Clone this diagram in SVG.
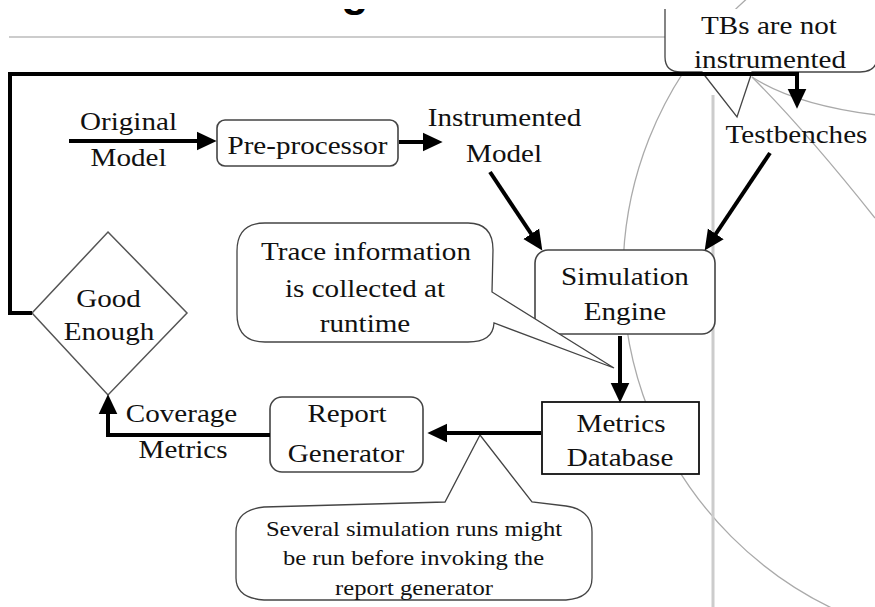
<svg xmlns="http://www.w3.org/2000/svg" width="875" height="607" viewBox="0 0 875 607">
<style>
.t{font-family:"Liberation Serif","Times New Roman",serif;font-size:26px;fill:#111;text-anchor:middle}
.ts{font-family:"Liberation Serif","Times New Roman",serif;font-size:22px;fill:#111;text-anchor:middle}
.box{fill:#fff;stroke:#444;stroke-width:1.6}
.call{fill:#fff;stroke:#444;stroke-width:1.3;stroke-linejoin:miter}
.deco{fill:none;stroke:#aaa;stroke-width:1.3}
.con{fill:none;stroke:#000;stroke-width:4;stroke-linejoin:miter}
</style>
<defs>
<marker id="ah" markerUnits="userSpaceOnUse" markerWidth="20" markerHeight="20" viewBox="0 0 19 18" refX="7" refY="9" orient="auto">
<path d="M0,0 L19,9 L0,18 Z" fill="#000"/>
</marker>
<clipPath id="topclip"><rect x="0" y="9" width="875" height="40"/></clipPath>
</defs>
<rect width="875" height="607" fill="#fff"/>
<g id="background">
<text x="355" y="6" font-family="Liberation Sans, Arial, sans-serif" font-weight="bold" font-size="44" text-anchor="middle" fill="#000" clip-path="url(#topclip)">g</text>
<line x1="9" y1="37" x2="668" y2="37" stroke="#bbb" stroke-width="1.5"/>
<circle cx="993" cy="275" r="370" class="deco"/>
<path class="deco" d="M752,77 Q805,130 875,218"/>
<path class="deco" d="M752,77 C780,95 820,108 877,115"/>
<line x1="713" y1="95" x2="713" y2="607" stroke="#ccc" stroke-width="3"/>
</g>
<g id="original-model"><text class="t" transform="translate(128.5,130) scale(1.12,1)">Original</text><text class="t" transform="translate(128.5,166) scale(1.12,1)">Model</text></g>
<g id="pre-processor"><rect class="box" x="217" y="120" width="181" height="46" rx="8"/><text class="t" transform="translate(307.5,154) scale(1.12,1)">Pre-processor</text></g>
<g id="instrumented-model"><text class="t" transform="translate(504.5,126) scale(1.12,1)">Instrumented</text><text class="t" transform="translate(504,162) scale(1.12,1)">Model</text></g>
<g id="testbenches"><text class="t" transform="translate(796.5,143) scale(1.12,1)">Testbenches</text></g>
<g id="simulation-engine"><rect class="box" x="535" y="250" width="180" height="84" rx="13"/><text class="t" transform="translate(625,285) scale(1.12,1)">Simulation</text><text class="t" transform="translate(625,320) scale(1.12,1)">Engine</text></g>
<g id="metrics-database"><rect x="542" y="402" width="157" height="72" fill="#fff" stroke="#111" stroke-width="1.8"/><text class="t" transform="translate(621,432) scale(1.12,1)">Metrics</text><text class="t" transform="translate(620,466) scale(1.12,1)">Database</text></g>
<g id="report-generator"><rect class="box" x="270" y="397" width="153" height="75" rx="12"/><text class="t" transform="translate(347,422) scale(1.12,1)">Report</text><text class="t" transform="translate(346,462) scale(1.12,1)">Generator</text></g>
<g id="good-enough"><polygon points="108,232 187,313 108,395 32,313" fill="#fff" stroke="#555" stroke-width="1.5"/><text class="t" transform="translate(108.5,307) scale(1.12,1)">Good</text><text class="t" transform="translate(109,340) scale(1.12,1)">Enough</text></g>
<g id="coverage-metrics"><text class="t" transform="translate(181.5,422) scale(1.12,1)">Coverage</text><text class="t" transform="translate(183,458) scale(1.12,1)">Metrics</text></g>
<g id="callout-trace"><path class="call" d="M265,223 L468,223 Q493,223 493,250 L492,292 L614,368 L494,323 Q493,342 468,342 L265,342 Q237,342 237,314 L237,251 Q237,223 265,223 Z"/><text class="t" transform="translate(366,260) scale(1.12,1)">Trace information</text><text class="t" transform="translate(365,297) scale(1.12,1)">is collected at</text><text class="t" transform="translate(365,332) scale(1.12,1)">runtime</text></g>
<g id="callout-runs"><path class="call" d="M264,507 L445,502 L480,435 L532,502 L566,506 Q592,510 592,532 L592,578 Q592,598 566,600 L264,600 Q236,598 236,578 L236,532 Q236,510 264,507 Z"/><text class="ts" transform="translate(414,536) scale(1.12,1)">Several simulation runs might</text><text class="ts" transform="translate(413.5,565) scale(1.12,1)">be run before invoking the</text><text class="ts" transform="translate(414,595) scale(1.12,1)">report generator</text></g>
<g id="callout-tbs"><path class="call" d="M665,9 L665,57 Q665,72 681,72 L702,72 L737,117 L752,72 L860,72 Q877,72 877,57 L877,9"/><text class="t" transform="translate(769,34) scale(1.12,1)">TBs are not</text><text class="t" transform="translate(770,68) scale(1.12,1)">instrumented</text></g>
<g id="connectors">
<line class="con" x1="69" y1="141" x2="204" y2="141" marker-end="url(#ah)"/>
<line class="con" x1="399" y1="142" x2="430" y2="142" marker-end="url(#ah)"/>
<line class="con" x1="490" y1="172" x2="535.3" y2="240" marker-end="url(#ah)"/>
<line class="con" x1="770" y1="153" x2="711.7" y2="240" marker-end="url(#ah)"/>
<polyline class="con" points="32,313 10,313 10,74 797,74 797,96" marker-end="url(#ah)"/>
<line class="con" x1="620" y1="336" x2="620" y2="390" marker-end="url(#ah)"/>
<line class="con" x1="541" y1="433" x2="440" y2="433" marker-end="url(#ah)"/>
<polyline class="con" points="270,435 108,435 108,407" marker-end="url(#ah)"/>
</g>
</svg>
